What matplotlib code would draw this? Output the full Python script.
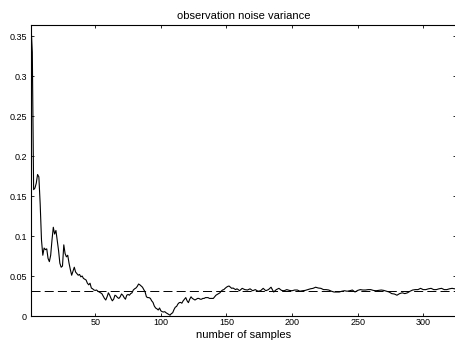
import numpy as np
import matplotlib
matplotlib.use("Agg")
import matplotlib.pyplot as plt
from matplotlib.ticker import FormatStrFormatter

plt.rcParams["font.family"] = ["Liberation Sans", "DejaVu Sans"]
plt.rcParams["lines.scale_dashes"] = False

# noise variance estimate vs sample index
n = [1, 2, 3, 4, 5, 6, 7, 8, 9, 10,
     11, 12, 13, 14, 15, 16, 17, 18, 19, 20,
     21, 22, 23, 24, 25, 26, 27, 28, 29, 30,
     31, 32, 33, 34, 35, 36, 37, 38, 39, 40,
     41, 42, 43, 44, 45, 46, 47, 48, 49, 50,
     51, 52, 53, 54, 55, 56, 57, 58, 59, 60,
     61, 62, 63, 64, 65, 66, 67, 68, 69, 70,
     71, 72, 73, 74, 75, 76, 77, 78, 79, 80,
     81, 82, 83, 84, 85, 86, 87, 88, 89, 90,
     91, 92, 93, 94, 95, 96, 97, 98, 99, 100,
     101, 102, 103, 104, 105, 106, 107, 108, 109, 110,
     111, 112, 113, 114, 115, 116, 117, 118, 119, 120,
     121, 122, 123, 124, 125, 126, 127, 128, 129, 130,
     131, 132, 133, 134, 135, 136, 137, 138, 139, 140,
     141, 142, 143, 144, 145, 146, 147, 148, 149, 150,
     151, 152, 153, 154, 155, 156, 157, 158, 159, 160,
     162, 164, 166, 168, 170, 172, 174, 176, 178, 180,
     182, 184, 186, 188, 190, 192, 194, 196, 198, 200,
     202, 204, 206, 208, 210, 212, 214, 216, 218, 220,
     222, 224, 226, 228, 230, 232, 234, 236, 238, 240,
     242, 244, 246, 248, 250, 252, 254, 256, 258, 260,
     262, 264, 266, 268, 270, 272, 274, 276, 278, 280,
     282, 284, 286, 288, 290, 292, 294, 296, 298, 300,
     302, 304, 306, 308, 310, 312, 314, 316, 318, 320,
     322, 324, 325]
var_est = [0.364, 0.33, 0.158, 0.160, 0.166, 0.177, 0.174, 0.14, 0.095, 0.076,
           0.085, 0.083, 0.084, 0.072, 0.068, 0.076, 0.095, 0.111, 0.1025, 0.107,
           0.095, 0.082, 0.066, 0.061, 0.0625, 0.089, 0.078, 0.074, 0.076, 0.066,
           0.058, 0.051, 0.056, 0.061, 0.055, 0.053, 0.051, 0.052, 0.049, 0.050,
           0.047, 0.046, 0.045, 0.041, 0.039, 0.041, 0.035, 0.034, 0.0325, 0.032,
           0.0325, 0.031, 0.030, 0.029, 0.028, 0.025, 0.022, 0.020, 0.024, 0.029,
           0.026, 0.022, 0.019, 0.021, 0.026, 0.025, 0.023, 0.022, 0.024, 0.0275,
           0.026, 0.023, 0.021, 0.026, 0.027, 0.026, 0.028, 0.029, 0.0325, 0.034,
           0.035, 0.037, 0.040, 0.039, 0.0375, 0.036, 0.033, 0.030, 0.024, 0.023,
           0.023, 0.022, 0.019, 0.017, 0.0125, 0.010, 0.009, 0.0075, 0.010, 0.0065,
           0.0054, 0.005, 0.0054, 0.004, 0.003, 0.002, 0.001, 0.003, 0.004, 0.008,
           0.011, 0.012, 0.015, 0.0167, 0.017, 0.016, 0.019, 0.021, 0.023, 0.019,
           0.0167, 0.021, 0.024, 0.022, 0.021, 0.020, 0.021, 0.022, 0.022, 0.021,
           0.021, 0.022, 0.022, 0.023, 0.023, 0.023, 0.022, 0.022, 0.022, 0.022,
           0.024, 0.026, 0.027, 0.028, 0.029, 0.031, 0.0325, 0.033, 0.0346, 0.036,
           0.037, 0.0375, 0.036, 0.0346, 0.035, 0.034, 0.033, 0.034, 0.033, 0.0316,
           0.0346, 0.033, 0.0325, 0.034, 0.0316, 0.033, 0.031, 0.0316, 0.0346, 0.0316,
           0.033, 0.036, 0.030, 0.033, 0.0346, 0.032, 0.0316, 0.033, 0.032, 0.0316,
           0.0325, 0.0325, 0.031, 0.0316, 0.032, 0.033, 0.034, 0.0346, 0.036, 0.035,
           0.0346, 0.033, 0.033, 0.0325, 0.031, 0.030, 0.030, 0.030, 0.031, 0.0316,
           0.031, 0.0316, 0.0325, 0.030, 0.032, 0.033, 0.0325, 0.0325, 0.033, 0.033,
           0.032, 0.0316, 0.032, 0.0325, 0.032, 0.031, 0.030, 0.028, 0.0275, 0.026,
           0.028, 0.029, 0.028, 0.029, 0.031, 0.0325, 0.033, 0.033, 0.0346, 0.033,
           0.033, 0.034, 0.0346, 0.033, 0.033, 0.034, 0.0346, 0.033, 0.033, 0.034,
           0.0346, 0.034, 0.034]
true_var = 0.0316

xticks = [50, 100, 150, 200, 250, 300]
yticks = [0, 0.05, 0.1, 0.15, 0.2, 0.25, 0.3, 0.35]

fig = plt.figure(figsize=(4.56, 3.40), dpi=100)
ax = fig.add_axes([31 / 456, 1 - 316 / 340, 425 / 456, 291 / 340])

ax.plot(n, var_est, color="black", lw=0.8)
ax.axhline(true_var, color="black", lw=0.7, dashes=(6.5, 3))

ax.set_xlim(1, 325)
ax.set_ylim(0, 0.364)
ax.set_xticks(xticks)
ax.set_yticks(yticks)
ax.yaxis.set_major_formatter(FormatStrFormatter("%g"))
ax.tick_params(direction="in", top=True, right=True, length=2.5, width=0.6,
               labelsize=6.5, pad=3)
ax.tick_params(axis="x", pad=1.5)
for s in ax.spines.values():
    s.set_linewidth(0.8)

ax.set_title("observation noise variance", fontsize=8, pad=4)
ax.set_xlabel("number of samples", fontsize=8, va="baseline")
ax.xaxis.set_label_coords(0.5, -0.074)

fig.savefig("out.png", dpi=100)
